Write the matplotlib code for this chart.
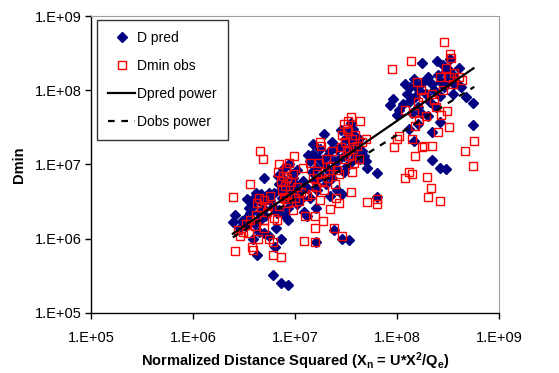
import numpy as np
import matplotlib
matplotlib.use("Agg")
import matplotlib.pyplot as plt

plt.rcParams["font.family"] = ["Liberation Sans", "DejaVu Sans"]
plt.rcParams["mathtext.fontset"] = "custom"
plt.rcParams["mathtext.rm"] = "Liberation Sans:bold"
plt.rcParams["mathtext.bf"] = "Liberation Sans:bold"
plt.rcParams["mathtext.default"] = "bf"

# D pred (blue diamonds)
pred_x = [2.45e6, 2.6e6, 2.85e6, 3.0e6, 3.3e6, 3.4e6, 3.5e6, 3.65e6, 3.8e6, 3.9e6,
          4.1e6, 4.2e6, 4.4e6, 4.6e6, 4.7e6, 4.9e6, 5.1e6, 5.3e6, 5.5e6, 5.7e6,
          6.0e6, 6.2e6, 6.6e6, 6.5e6, 4.2e6, 6.4e6, 7.3e6, 4.9e6, 4.4e6, 3.9e6,
          5.5e6, 3.3e6, 4.0e6, 4.5e6, 5.0e6, 3.7e6, 6.0e6, 7.3e6, 8.5e6,
          6.8e6, 7.0e6, 7.3e6, 7.5e6, 7.7e6, 8.0e6, 8.4e6, 8.6e6, 8.8e6, 9.0e6,
          9.3e6, 9.7e6, 1.0e7, 1.05e7, 1.1e7, 1.13e7, 1.2e7, 1.22e7, 1.31e7, 8.0e6,
          8.5e6, 7.0e6, 9.5e6, 1.05e7, 7.6e6, 8.8e6,
          1.35e7, 1.5e7, 1.4e7, 1.45e7, 1.55e7, 1.6e7, 1.64e7, 1.7e7, 1.77e7, 1.8e7,
          1.9e7, 1.9e7, 2.0e7, 2.06e7, 2.1e7, 2.2e7, 2.3e7, 2.4e7, 2.5e7, 2.6e7,
          1.6e7, 2.4e7, 2.9e7, 3.4e7, 1.6e7, 1.4e7, 2.2e7, 1.3e7, 2.6e7, 1.5e7, 2.3e7,
          2.8e7, 2.9e7, 3.0e7, 3.1e7, 3.2e7, 3.3e7, 3.4e7, 3.5e7, 3.6e7, 3.7e7,
          3.8e7, 3.9e7, 4.0e7, 4.2e7, 4.3e7, 4.5e7, 4.7e7, 2.9e7, 5.1e7, 6.3e7,
          6.4e7, 3.0e7, 2.7e7, 5.0e7, 3.5e7,
          8.5e7, 9.1e7, 1.0e8, 1.05e8, 1.2e8, 1.25e8, 1.3e8, 1.35e8, 1.4e8, 1.45e8,
          1.5e8, 1.55e8, 1.6e8, 1.65e8, 1.74e8, 1.8e8, 1.9e8, 2.0e8, 2.1e8, 2.2e8,
          2.3e8, 2.45e8, 2.5e8, 2.6e8, 2.7e8, 2.8e8, 2.9e8, 3.0e8, 3.1e8, 3.2e8,
          3.3e8, 3.5e8, 3.6e8, 3.8e8, 4.0e8, 4.2e8, 4.7e8, 5.6e8, 5.6e8, 3.5e8,
          2.2e8, 2.6e8, 3.0e8, 2.2e8, 2.6e8, 1.45e8, 1.6e8, 2.0e8, 1.3e8, 1.7e8,
          2.4e8, 1.15e8]
pred_y = [1.7e6, 2.1e6, 1.4e6, 1.75e6, 1.5e6, 3.4e6, 2.6e6, 2.2e6, 2.7e6, 3.4e6,
          4.1e6, 3.3e6, 2.2e6, 4.0e6, 3.0e6, 6.5e6, 2.0e6, 3.5e6, 4.1e6, 3.3e6,
          2.7e6, 4.1e6, 2.2e6, 1.4e6, 6.0e5, 7.7e5, 9.8e5, 1.2e6, 1.25e6, 1.0e6,
          1.1e6, 1.9e6, 1.6e6, 1.8e6, 2.5e6, 3.0e6, 3.2e5, 2.5e5, 2.4e5,
          7.0e6, 5.5e6, 4.5e6, 3.5e6, 6.2e6, 4.0e6, 5.0e6, 2.6e6, 3.2e6, 4.6e6,
          7.5e6, 3.8e6, 5.5e6, 2.9e6, 4.3e6, 3.4e6, 6.0e6, 2.3e6, 4.8e6, 2.0e6,
          1.8e6, 2.4e6, 6.5e6, 8.5e6, 8.8e6, 1.0e7,
          1.35e7, 1.37e7, 1.1e7, 8.0e6, 6.0e6, 9.0e6, 4.5e6, 1.2e7, 1.6e7, 7.0e6,
          2.6e7, 1.0e7, 5.5e6, 1.3e7, 8.5e6, 1.5e7, 6.5e6, 1.1e7, 9.0e6, 1.6e7,
          9.0e5, 1.3e6, 1.0e6, 9.5e5, 2.6e6, 3.5e6, 3.8e6, 2.0e6, 4.5e6, 1.9e7, 2.0e7,
          2.9e7, 1.8e7, 1.3e7, 2.2e7, 9.5e6, 2.7e7, 1.6e7, 2.0e7, 1.1e7, 3.0e7,
          1.4e7, 2.4e7, 1.7e7, 2.2e7, 1.2e7, 1.5e7, 1.3e7, 4.0e6, 9.0e6, 7.6e6,
          3.6e6, 8.0e6, 1.2e7, 1.1e7, 3.6e7,
          6.3e7, 7.6e7, 4.6e7, 5.5e7, 1.23e8, 9.0e7, 7.0e7, 1.1e8, 5.0e7, 1.4e8,
          8.0e7, 1.15e8, 6.0e7, 1.0e8, 2.3e8, 1.3e8, 9.0e7, 1.5e8, 7.0e7, 1.2e8,
          1.0e8, 2.5e8, 1.6e8, 8.5e7, 1.3e8, 2.2e8, 1.1e8, 1.8e8, 1.4e8, 1.85e8,
          2.6e8, 1.6e8, 1.2e8, 1.3e8, 2.0e8, 1.1e8, 8.1e7, 6.8e7, 3.4e7, 9.0e7,
          1.15e7, 9.1e6, 8.6e6, 2.7e7, 3.7e7, 2.1e7, 3.5e7, 4.5e7, 3.0e7, 5.0e7,
          6.0e7, 6.5e7]

# Dmin obs (red open squares)
obs_x = [2.45e6, 2.6e6, 2.75e6, 2.9e6, 3.1e6, 3.3e6, 3.6e6, 3.6e6, 3.8e6, 3.9e6,
         4.0e6, 4.1e6, 4.2e6, 4.4e6, 4.5e6, 4.6e6, 4.8e6, 4.9e6, 5.0e6, 5.3e6,
         5.5e6, 5.7e6, 6.0e6, 6.2e6, 6.6e6, 6.0e6, 4.3e6, 3.5e6, 5.0e6, 5.4e6,
         6.8e6, 7.0e6, 7.2e6, 7.3e6, 7.5e6, 7.6e6, 7.8e6, 8.0e6, 8.2e6, 8.4e6,
         8.6e6, 8.8e6, 9.0e6, 9.2e6, 9.5e6, 9.8e6, 1.0e7, 1.05e7, 1.1e7, 1.15e7,
         1.2e7, 1.23e7, 1.25e7, 1.3e7, 8.0e6, 9.5e6, 7.0e6,
         1.4e7, 1.45e7, 1.5e7, 1.55e7, 1.58e7, 1.56e7, 1.6e7, 1.65e7, 1.7e7, 1.75e7,
         1.8e7, 1.85e7, 1.87e7, 1.9e7, 1.95e7, 2.0e7, 2.1e7, 2.2e7, 2.3e7, 2.4e7,
         2.45e7, 2.5e7, 2.6e7, 2.7e7, 1.75e7, 2.2e7,
         2.8e7, 2.9e7, 2.9e7, 3.0e7, 3.0e7, 3.1e7, 3.2e7, 3.3e7, 3.3e7, 3.4e7,
         3.5e7, 3.5e7, 3.6e7, 3.7e7, 3.8e7, 3.9e7, 4.0e7, 4.2e7, 4.3e7, 4.5e7,
         5.0e7, 5.1e7, 6.3e7, 6.4e7, 2.7e7, 3.6e7, 3.2e7,
         8.9e7, 9.3e7, 1.0e8, 1.05e8, 1.2e8, 1.38e8, 1.4e8, 1.4e8, 1.45e8, 1.5e8,
         1.5e8, 1.55e8, 1.6e8, 1.65e8, 1.7e8, 1.75e8, 1.8e8, 1.85e8, 1.9e8, 1.95e8,
         2.0e8, 2.15e8, 2.2e8, 2.3e8, 2.4e8, 2.5e8, 2.6e8, 2.6e8, 2.7e8, 2.8e8,
         2.9e8, 3.0e8, 3.1e8, 3.2e8, 3.2e8, 3.3e8, 3.4e8, 3.5e8, 3.6e8, 4.0e8,
         4.3e8, 4.6e8, 5.6e8, 5.7e8, 1.3e8, 1.2e8, 2.2e8]
obs_y = [3.6e6, 6.9e5, 1.3e6, 1.1e6, 1.25e6, 1.6e6, 5.5e6, 1.8e6, 7.8e5, 7.0e5,
         1.5e6, 2.1e6, 3.0e6, 3.5e6, 1.5e7, 2.7e6, 1.17e7, 1.8e6, 3.3e6, 2.3e6,
         1.0e6, 3.8e6, 6.0e5, 1.9e6, 1.8e6, 9.0e5, 1.0e6, 1.2e6, 1.4e6, 2.8e6,
         8.0e6, 1.0e7, 6.0e6, 5.6e5, 4.5e6, 7.0e6, 3.6e6, 5.2e6, 9.0e6, 6.5e6,
         3.0e6, 1.05e7, 4.0e6, 5.8e6, 7.5e6, 1.3e7, 3.5e6, 5.0e6, 3.2e6, 4.2e6,
         9.0e6, 9.3e5, 2.0e6, 3.8e6, 3.4e6, 2.4e6, 2.8e6,
         1.05e7, 4.0e6, 6.5e6, 2.0e6, 8.9e5, 1.4e6, 5.0e6, 7.5e6, 1.05e7, 3.3e6,
         1.8e7, 6.0e6, 1.74e6, 4.5e6, 8.0e6, 1.2e7, 6.5e6, 2.5e6, 1.5e7, 1.4e6,
         5.5e6, 3.5e6, 8.5e6, 3.0e6, 2.0e7, 9.5e6,
         1.7e7, 1.1e6, 2.5e7, 3.5e7, 1.2e7, 2.0e7, 1.5e7, 3.8e7, 2.8e7, 1.3e7,
         4.3e7, 4.2e6, 2.2e7, 1.6e7, 1.05e7, 2.5e7, 1.8e7, 1.2e7, 3.9e7, 2.0e7,
         2.2e7, 3.1e6, 3.4e6, 2.9e6, 7.5e6, 8.0e6, 3.0e7,
         1.95e8, 1.73e7, 2.2e7, 2.4e7, 6.5e6, 2.45e8, 7.4e6, 2.2e7, 5.0e7, 1.3e7,
         3.3e7, 1.3e8, 7.0e7, 4.0e7, 1.0e8, 1.7e7, 8.0e7, 1.8e7, 4.5e7, 6.8e6,
         3.6e6, 4.8e6, 1.8e7, 7.5e7, 6.0e7, 2.7e7, 3.2e6, 1.5e8, 4.6e7, 1.0e8,
         4.5e8, 2.0e8, 5.3e7, 3.2e7, 1.5e8, 3.1e8, 2.7e8, 1.2e8, 1.7e8, 1.5e8,
         1.36e8, 1.5e7, 9.5e6, 2.05e7, 8.0e6, 5.5e7, 9.0e7]

# power trend lines y = a * x^b
pred_fit = (1.07, 0.945)
obs_fit = (3.49, 0.857)

fig = plt.figure(figsize=(5.59, 3.73), dpi=100)
ax = fig.add_axes([0.163, 0.161, 0.730, 0.796])

ax.plot(pred_x, pred_y, linestyle="none", marker="D", markersize=5.2,
        color="#000080", label="D pred", zorder=2)
ax.plot(obs_x, obs_y, linestyle="none", marker="s", markersize=6.3,
        markerfacecolor="none", markeredgecolor="#ff0000", markeredgewidth=1.0,
        label="Dmin obs", zorder=3)

xx = np.array([min(pred_x), max(pred_x)])
ax.plot(xx, pred_fit[0] * xx ** pred_fit[1], color="black", lw=1.6,
        label="Dpred power", zorder=4)
xx = np.array([min(obs_x), max(obs_x)])
ax.plot(xx, obs_fit[0] * xx ** obs_fit[1], color="black", lw=1.6,
        linestyle=(0, (3, 3)), label="Dobs power", zorder=4)

ax.set_xscale("log")
ax.set_yscale("log")
ax.set_xlim(1e5, 1e9)
ax.set_ylim(1e5, 1e9)
ticks = [1e5, 1e6, 1e7, 1e8, 1e9]
tick_labels = ["1.E+05", "1.E+06", "1.E+07", "1.E+08", "1.E+09"]
ax.set_xticks(ticks)
ax.set_xticklabels(tick_labels)
ax.set_yticks(ticks)
ax.set_yticklabels(tick_labels)
ax.minorticks_off()
ax.tick_params(direction="out", length=4, width=1, labelsize=10.5, pad=3)
ax.tick_params(axis="x", pad=9)

for side in ["top", "right"]:
    ax.spines[side].set_color("#a0a0a0")
for side in ["left", "bottom"]:
    ax.spines[side].set_linewidth(1)

ax.set_ylabel("Dmin", fontsize=10.5, fontweight="bold", labelpad=6)
ax.set_xlabel(r"Normalized Distance Squared (X$_\mathregular{n}$ = U*X$^\mathregular{2}$/Q$_\mathregular{e}$)",
              fontsize=10.5, fontweight="bold", labelpad=4)

leg = ax.legend(loc="upper left", bbox_to_anchor=(0.015, 0.987), borderaxespad=0,
                fontsize=10, frameon=True, fancybox=False, edgecolor="black",
                handlelength=1.9, labelspacing=1.0, borderpad=0.8, handletextpad=0.15)
leg.get_frame().set_linewidth(1)

fig.savefig("out.png", dpi=100)
